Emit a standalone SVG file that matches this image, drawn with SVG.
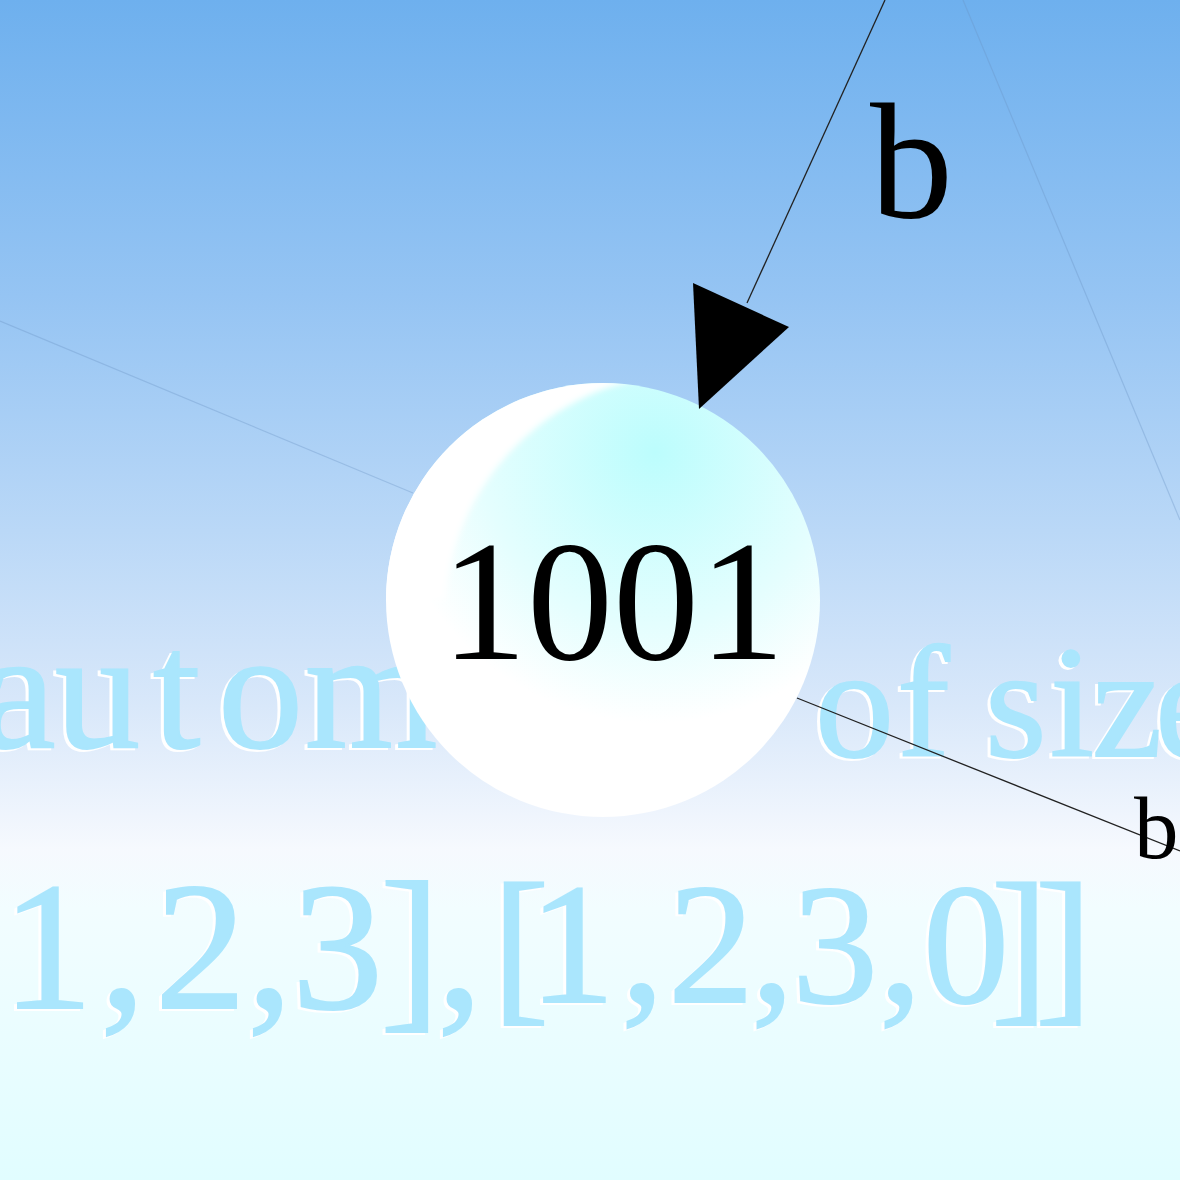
<svg xmlns="http://www.w3.org/2000/svg" width="1180" height="1180" viewBox="0 0 1180 1180">
<defs>
<linearGradient id="bg" x1="0" y1="0" x2="0" y2="1">
<stop offset="0" stop-color="#6eb0ee"/>
<stop offset="0.25" stop-color="#95c4f3"/>
<stop offset="0.45" stop-color="#bad8f7"/>
<stop offset="0.6" stop-color="#d9e8fa"/>
<stop offset="0.72" stop-color="#f6f9fe"/>
<stop offset="0.77" stop-color="#f2fdff"/>
<stop offset="1" stop-color="#e1fdff"/>
</linearGradient>
<radialGradient id="sph" cx="0.62" cy="0.16" r="0.8">
<stop offset="0" stop-color="#bcfdfd"/>
<stop offset="0.5" stop-color="#e4fefe"/>
<stop offset="0.78" stop-color="#ffffff"/>
<stop offset="1" stop-color="#ffffff"/>
</radialGradient>
<filter id="soft" x="-10%" y="-10%" width="120%" height="120%"><feGaussianBlur stdDeviation="3"/></filter>
<filter id="emboss" x="-5%" y="-10%" width="110%" height="120%">
<feOffset in="SourceAlpha" dx="-3" dy="2" result="off"/>
<feFlood flood-color="#ffffff" result="white"/>
<feComposite in="white" in2="off" operator="in" result="shadow"/>
<feMerge><feMergeNode in="shadow"/><feMergeNode in="SourceGraphic"/></feMerge>
</filter>
<clipPath id="sphClip"><circle cx="603" cy="600" r="217"/></clipPath>
</defs>
<style>
.bgtext{font-family:"Liberation Serif","DejaVu Serif",serif;fill:#aae6fd;stroke:#aae6fd;stroke-width:2}
.lbl{font-family:"Liberation Serif","DejaVu Serif",serif;fill:#000000}
.faint{stroke:#6a93c2;stroke-opacity:0.35;stroke-width:1.2;fill:none}
.edge{stroke:#222222;stroke-width:1.3;fill:none}
</style>
<rect x="0" y="0" width="1180" height="1180" fill="url(#bg)"/>

<g id="connectors-back">
<line class="faint" x1="0" y1="321" x2="413" y2="493"/>
<line class="faint" x1="963" y1="0" x2="1180" y2="520"/>
</g>

<g id="background-text" filter="url(#emboss)">
<text class="bgtext" font-size="170" y="747" x="-20 55 153 218 305 437 512 559 644">automaton</text>
<text class="bgtext" font-size="158" y="756" x="815 897 985 1050 1092 1155">ofsize</text>
<text class="bgtext" font-size="182" y="1008" x="2 100 155 247 292 380 437">1,2,3],</text>
<text class="bgtext" font-size="172" y="1002" x="492 529 621 668 751 792 879 923 991 1035">[1,2,3,0]]</text>
</g>

<g id="node-1001">
<circle cx="603" cy="600" r="217" fill="url(#sph)"/>
<g clip-path="url(#sphClip)">
<path d="M380,600 A223,223 0 0 1 603,377 L650,377 A245,245 0 0 0 445,600 Z" fill="#ffffff" filter="url(#soft)"/>
</g>
<text class="lbl" font-size="172" x="441" y="659">1001</text>
</g>

<g id="connectors">
<line class="edge" x1="885" y1="0" x2="747" y2="303"/>
<polygon points="693,283 789,327 699,409" fill="#000000"/>
<line class="edge" x1="797" y1="698" x2="1180" y2="851"/>
<text class="lbl" font-size="166" x="870" y="217">b</text>
<text class="lbl" font-size="89" x="1134" y="858">b</text>
</g>
</svg>
